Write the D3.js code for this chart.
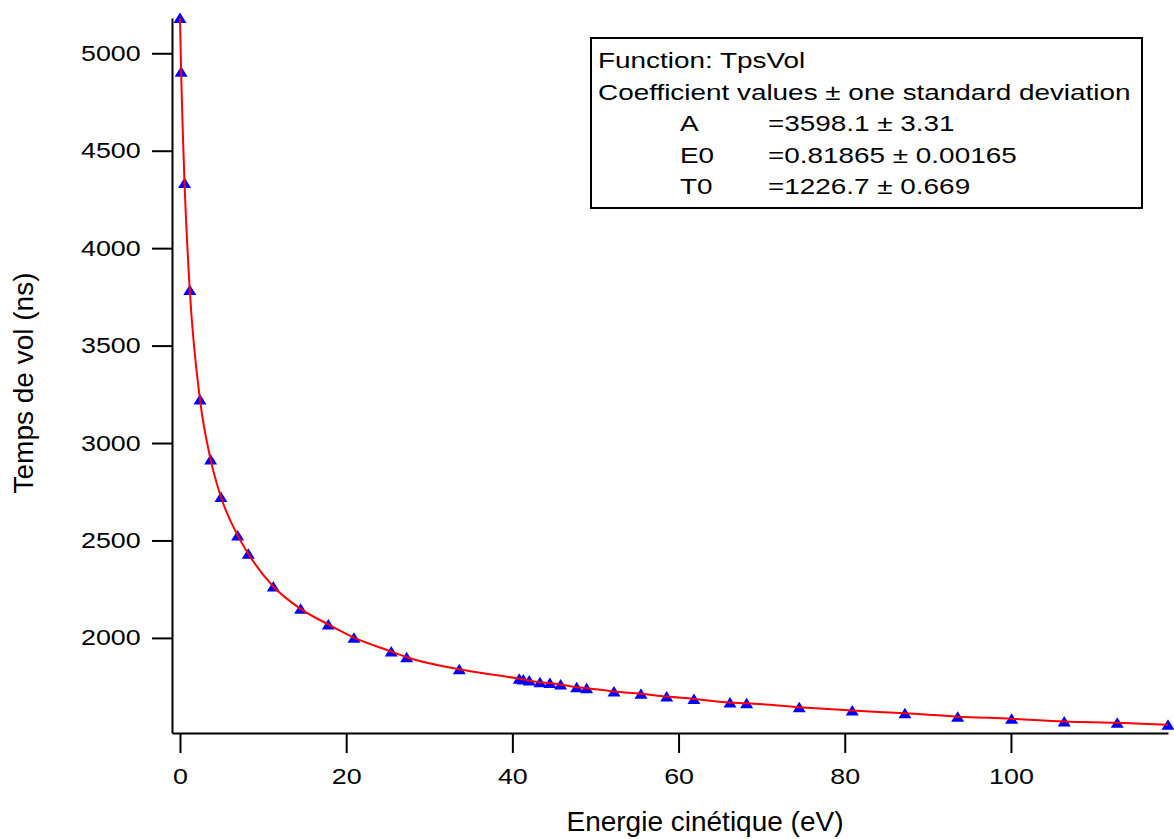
<!DOCTYPE html>
<html>
<head>
<meta charset="utf-8">
<script src="https://cdn.jsdelivr.net/npm/d3@7"></script>
<style>
  body { margin: 0; background: #fff; }
  svg { display: block; }
  text { font-family: "Liberation Sans", Arial, sans-serif; fill: #000; }
</style>
</head>
<body>
<div id="chart"></div>
<script>
// kinetic energy (eV) of each measured point
const energies = [0, 0.14, 0.55, 1.18, 2.41, 3.69, 4.93, 6.94, 8.22, 11.23, 14.52, 17.85,
  20.94, 25.43, 27.28, 33.61, 40.83, 41.31, 42.03, 43.32, 44.52, 45.81, 47.74, 48.94,
  52.23, 55.48, 58.57, 61.85, 66.19, 68.19, 74.52, 80.9, 87.24, 93.59, 100.08, 106.41,
  112.79, 118.9];
// time of flight (ns)
const times = [5181, 4905, 4334, 3785, 3223, 2915, 2723, 2526, 2432, 2264, 2149, 2069,
  2001, 1930, 1901, 1839, 1790, 1786, 1781, 1773, 1768, 1761, 1747, 1742,
  1725, 1713, 1699, 1687, 1668, 1665, 1644, 1627, 1613, 1596, 1585, 1571,
  1564, 1554];

const xTicks = [0, 20, 40, 60, 80, 100];
const yTicks = [2000, 2500, 3000, 3500, 4000, 4500, 5000];
const xDomain = [-0.96, 118.9];
const yDomain = [1512, 5181];

const xTitle = "Energie cinétique (eV)";
const yTitle = "Temps de vol (ns)";
const legendHead = ["Function: TpsVol", "Coefficient values ± one standard deviation"];
const coefNames = ["A", "E0", "T0"];
const coefValues = ["=3598.1 ± 3.31", "=0.81865 ± 0.00165", "=1226.7 ± 0.669"];

const W = 1174, H = 839;
const plotL = 172, plotR = 1168, plotT = 18, plotB = 733;
const stretch = 1.22; // labels in the picture are drawn wide

const svg = d3.select("#chart").append("svg")
  .attr("width", W)
  .attr("height", H);

const x = d3.scaleLinear().domain(xDomain).range([plotL, plotR]);
const y = d3.scaleLinear().domain(yDomain).range([plotB, plotT]);

// Y axis
const gy = svg.append("g")
  .attr("transform", "translate(" + plotL + ",0)")
  .call(d3.axisLeft(y).tickValues(yTicks).tickSize(20).tickSizeOuter(0)
    .tickFormat(d3.format("d")));
gy.selectAll("text")
  .attr("x", -31.3 / stretch)
  .attr("transform", "scale(" + stretch + ",1)")
  .style("font-size", "22px");

// X axis
const gx = svg.append("g")
  .attr("transform", "translate(0," + plotB + ")")
  .call(d3.axisBottom(x).tickValues(xTicks).tickSize(20).tickSizeOuter(0));
gx.selectAll("text")
  .attr("y", 35)
  .attr("transform", "scale(" + stretch + ",1)")
  .style("font-size", "22px");

svg.selectAll(".domain, .tick line")
  .attr("stroke", "#000")
  .attr("stroke-width", 2);
svg.selectAll("g").attr("font-family", null);

// axis titles
svg.append("text")
  .attr("x", 705)
  .attr("y", 831)
  .attr("text-anchor", "middle")
  .style("font-size", "28px")
  .text(xTitle);

svg.append("text")
  .attr("transform", "translate(33,383) rotate(-90)")
  .attr("text-anchor", "middle")
  .style("font-size", "28px")
  .text(yTitle);

// data
const pts = energies.map((e, i) => [e, times[i]]);

svg.append("g")
  .selectAll("path")
  .data(pts).enter()
  .append("path")
  .attr("d", "M0,-5.5L6.5,5L-6.5,5Z")
  .attr("transform", d => "translate(" + x(d[0]) + "," + y(d[1]) + ")")
  .attr("fill", "#0000ff");

const line = d3.line()
  .x(d => x(d[0]))
  .y(d => y(d[1]))
  .curve(d3.curveMonotoneX);

svg.append("path")
  .datum(pts)
  .attr("d", line)
  .attr("fill", "none")
  .attr("stroke", "#ff0000")
  .attr("stroke-width", 2);

// fit legend
const lg = svg.append("g");
lg.append("rect")
  .attr("x", 591).attr("y", 38)
  .attr("width", 551).attr("height", 170)
  .attr("fill", "#fff")
  .attr("stroke", "#000")
  .attr("stroke-width", 2);

const lineY = [68, 99.5, 131, 162.5, 194];
legendHead.forEach((t, i) => {
  lg.append("g")
    .attr("transform", "translate(598," + lineY[i] + ")")
    .append("text")
    .attr("transform", "scale(1.24,1)")
    .style("font-size", "22.5px")
    .text(t);
});
coefNames.forEach((n, i) => {
  lg.append("g")
    .attr("transform", "translate(680," + lineY[i + 2] + ")")
    .append("text")
    .attr("transform", "scale(1.24,1)")
    .style("font-size", "22.5px")
    .text(n);
  lg.append("g")
    .attr("transform", "translate(768," + lineY[i + 2] + ")")
    .append("text")
    .attr("transform", "scale(1.24,1)")
    .style("font-size", "22.5px")
    .text(coefValues[i]);
});
</script>
</body>
</html>
